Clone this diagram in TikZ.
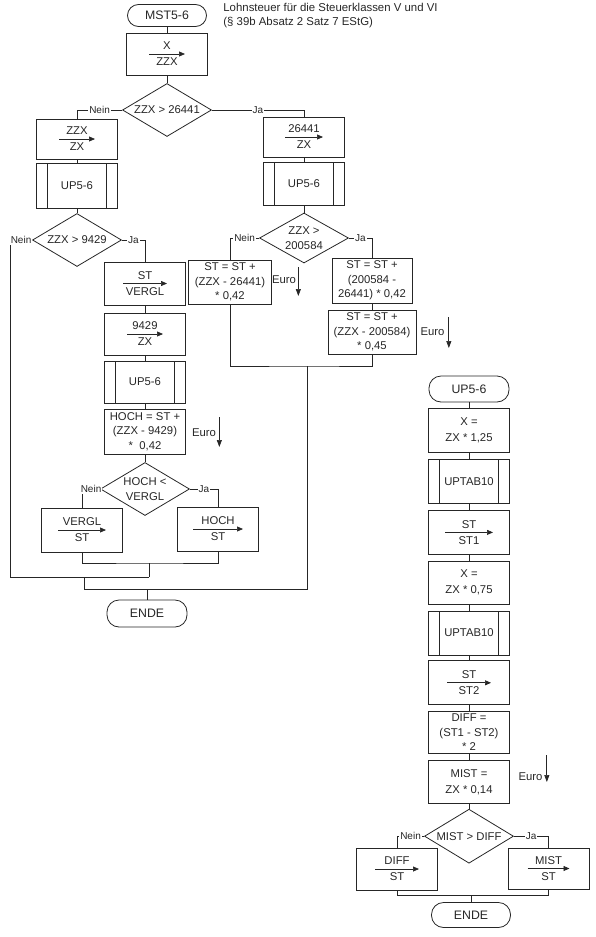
\documentclass[tikz,border=0pt]{standalone}
\usepackage{fontspec}
\setmainfont{Liberation Sans}
\usepackage{xcolor}
\usepackage{tikz}
\usetikzlibrary{arrows.meta,positioning,shapes.geometric}
\definecolor{ink}{HTML}{262626}

\begin{document}
\begin{tikzpicture}[
    x=1pt, y=-1pt, color=ink, line width=0.8pt,
    every node/.style={font=\fontsize{11.3}{14.5}\selectfont},
    term/.style={draw, rounded corners=12pt, minimum width=80pt, minimum height=26pt, inner sep=1pt, font=\fontsize{12.3}{14}\selectfont},
    box/.style={draw, align=center, minimum width=81pt, minimum height=44pt, inner sep=1pt},
    sub/.style={box, path picture={\draw ([xshift=11pt]path picture bounding box.north west) -- ([xshift=11pt]path picture bounding box.south west) ([xshift=-11pt]path picture bounding box.north east) -- ([xshift=-11pt]path picture bounding box.south east);}},
    dec/.style={diamond, draw, align=center, aspect=1.7, inner sep=0pt, minimum width=89pt, minimum height=53pt},
    lbl/.style={fill=white, inner sep=1pt, font=\fontsize{10}{12}\selectfont},
    eur/.style={inner sep=0pt},
    asg/.style={-{Triangle[length=6pt, width=5pt]}, line width=0.7pt},
    arr/.style={-{Triangle[length=7pt, width=5pt]}, line width=0.7pt}
]
\useasboundingbox (0,0) rectangle (596,937);

\node[term, minimum width=79pt, minimum height=22pt, rounded corners=11pt] (t1) at (167,15.5) {MST5-6};
\node[anchor=north west, align=left, inner sep=0pt, font=\fontsize{11.4}{14}\selectfont] (titel) at (223,2.5) {Lohnsteuer für die Steuerklassen V und VI\\(§ 39b Absatz 2 Satz 7 EStG)};
\node[box, minimum height=42pt] (a1) at (167,54) {X\\[1.5pt]ZZX};
\node[dec] (d1) at (167,110) {ZZX > 26441};

\node[box, minimum height=40pt] (a2) at (77,139) {ZZX\\[1.5pt]ZX};
\node[sub, minimum height=45pt] (s1) at (77,185.5) {UP5-6};
\node[dec] (d2) at (77,240) {ZZX > 9429};
\node[box, minimum height=43pt] (a3) at (145,283.5) {ST\\[1.5pt]VERGL};
\node[box, minimum height=42pt] (a4) at (145,334) {9429\\[1.5pt]ZX};
\node[sub, minimum height=42pt] (s2) at (145,382) {UP5-6};
\node[box, minimum height=45pt] (b1) at (145,431.5) {HOCH = ST +\\(ZZX - 9429)\\*\ \ 0,42};
\node[eur] (e1) at (204,433) {Euro};
\node[dec] (d3) at (145,489) {HOCH <\\VERGL};
\node[box] (a5) at (82,530) {VERGL\\[1.5pt]ST};
\node[box] (a6) at (218,529) {HOCH\\[1.5pt]ST};

\node[box, minimum height=40pt] (a7) at (304,137) {26441\\[1.5pt]ZX};
\node[sub, minimum height=43pt] (s3) at (304,183.5) {UP5-6};
\node[dec, minimum height=50pt] (d4) at (304,238) {ZZX >\\200584};
\node[box, minimum width=83pt] (b2) at (230,282) {ST = ST +\\(ZZX - 26441)\\* 0,42};
\node[eur] (e2) at (284,280) {Euro};
\node[box, minimum width=80pt, minimum height=45pt] (b3) at (372,280.5) {ST = ST +\\(200584 -\\26441) * 0,42};
\node[box, minimum width=88pt] (b4) at (372,332) {ST = ST +\\(ZZX - 200584)\\* 0,45};
\node[eur] (e3) at (432.5,332) {Euro};

\node[term, minimum height=27pt] (t2) at (147,613.5) {ENDE};

\node[term] (t3) at (469,389) {UP5-6};
\node[box, below=6pt of t3] (c1) {X =\\[1.5pt]ZX * 1,25};
\node[sub, below=6pt of c1] (c2) {UPTAB10};
\node[box, below=6pt of c2] (c3) {ST\\[1.5pt]ST1};
\node[box, minimum height=43pt, below=6pt of c3] (c4) {X =\\[1.5pt]ZX * 0,75};
\node[sub, below=6pt of c4] (c5) {UPTAB10};
\node[box, below=5pt of c5] (c6) {ST\\[1.5pt]ST2};
\node[box, minimum height=42pt, below=6pt of c6] (c7) {DIFF =\\(ST1 - ST2)\\* 2};
\node[box, minimum height=43pt, below=6pt of c7] (c8) {MIST =\\[1.5pt]ZX * 0,14};
\node[eur] (e4) at (530.5,777) {Euro};
\node[dec, minimum height=54pt, below=5pt of c8] (d5) {MIST > DIFF};
\node[box, minimum height=42pt] (c9) at (397,869) {DIFF\\[1.5pt]ST};
\node[box, minimum height=41pt] (c10) at (548.5,868.5) {MIST\\[1.5pt]ST};
\node[term, minimum width=79pt, minimum height=25pt] (t4) at (471,915) {ENDE};

\coordinate (j1) at (149,563);
\coordinate (j2) at (149,577);
\coordinate (n1) at (10,577);
\coordinate (j3) at (84,589);
\coordinate (k1) at (307,366);
\coordinate (j5) at (471,895);

\foreach \p/\q in {t1/a1, a1/d1, a2/s1, s1/d2, a3/a4, a4/s2, s2/b1, b1/d3, a7/s3, s3/d4, b3/b4, t3/c1, c1/c2, c2/c3, c3/c4, c4/c5, c5/c6, c6/c7, c7/c8, c8/d5}
  \draw (\p) -- (\q);

\draw (d1.west) -- node[lbl]{Nein} (d1.west -| a2.north) -- (a2.north);
\draw (d1.east) -- node[lbl]{Ja} (d1.east -| a7.north) -- (a7.north);
\draw (d2.east) -- node[lbl]{Ja} (d2.east -| a3.north) -- (a3.north);
\draw (d2.west) -- node[lbl]{Nein} (d2.west -| n1) -- (n1) -- (j2);
\draw (d3.west) -- node[lbl]{Nein} (d3.west -| a5.north) -- (a5.north);
\draw (d3.east) -- node[lbl]{Ja} (d3.east -| a6.north) -- (a6.north);
\draw (d4.west) -- node[lbl]{Nein} (d4.west -| b2.north) -- (b2.north);
\draw (d4.east) -- node[lbl]{Ja} (d4.east -| b3.north) -- (b3.north);
\draw (d5.west) -- node[lbl]{Nein} (d5.west -| c9.north) -- (c9.north);
\draw (d5.east) -- node[lbl]{Ja} (d5.east -| c10.north) -- (c10.north);

\draw (a5.south) |- (j1) -| (a6.south);
\draw (j1) -- (j2);
\draw (b2.south) |- (k1) -| (b4.south);
\draw (j3 |- j2) -- (j3) -- (j3 -| k1) -- (k1);
\draw (t2.north |- j3) -- (t2);
\draw (c9.south) |- (j5) -| (c10.south);
\draw (j5) -- (t4);

\foreach \n/\l in {a1/18, a2/18, a7/19, a3/22, a4/18, a5/24, a6/25, c3/24, c6/22, c9/22, c10/21}
  \draw[asg] ([xshift=-\l pt]\n.center) -- ([xshift=\l pt]\n.center);

\foreach \e/\s/\u/\d in {e1/3/16/14, e2/2/13/16, e3/4/15/16, e4/4/22/5}
  \draw[arr] ([shift={(\s,-\u)}]\e.east) -- ([shift={(\s,\d)}]\e.east);
\end{tikzpicture}
\end{document}
